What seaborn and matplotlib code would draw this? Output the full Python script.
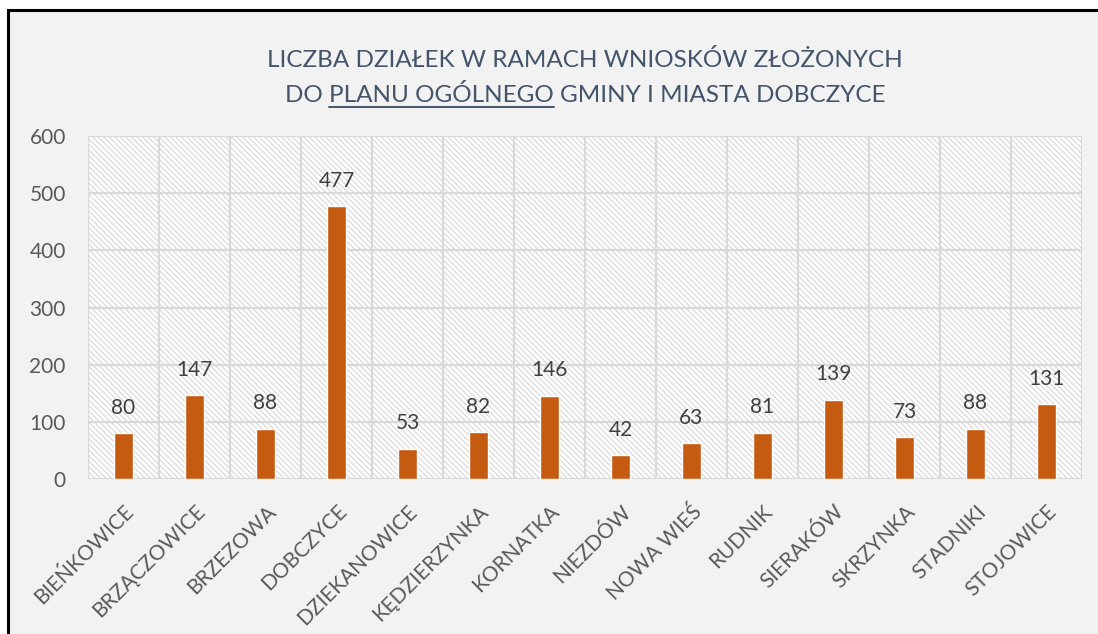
import pandas as pd
import matplotlib.pyplot as plt
import seaborn as sns
from matplotlib.patches import Rectangle
from matplotlib.lines import Line2D

# data
villages = ['BIEŃKOWICE', 'BRZĄCZOWICE', 'BRZEZOWA', 'DOBCZYCE', 'DZIEKANOWICE',
            'KĘDZIERZYNKA', 'KORNATKA', 'NIEZDÓW', 'NOWA WIEŚ', 'RUDNIK',
            'SIERAKÓW', 'SKRZYNKA', 'STADNIKI', 'STOJOWICE']
plots = [80, 147, 88, 477, 53, 82, 146, 42, 63, 81, 139, 73, 88, 131]
y_ticks = [0, 100, 200, 300, 400, 500, 600]
title_line1 = 'LICZBA DZIAŁEK W RAMACH WNIOSKÓW ZŁOŻONYCH'
title_pre, title_under, title_post = 'DO ', 'PLANU OGÓLNEGO', ' GMINY I MIASTA DOBCZYCE'

df = pd.DataFrame({'wies': villages, 'liczba': plots})

sns.set_style('white')
plt.rcParams['font.family'] = ['Lato', 'DejaVu Sans']
plt.rcParams['hatch.color'] = '#D6D6D6'
plt.rcParams['hatch.linewidth'] = 0.8

fig = plt.figure(figsize=(10.98, 6.34), dpi=100)
fig.patch.set_facecolor('white')

# chart frame (grey panel with black top/left border)
frame = Rectangle((8 / 1098, -0.05), 1.1, 1 - 10 / 634 + 0.05,
                  transform=fig.transFigure, facecolor='#F2F2F2',
                  edgecolor='black', linewidth=2.2, zorder=-5)
fig.patches.append(frame)

ax = fig.add_axes([88 / 1098, 1 - 479 / 634, (1082 - 88) / 1098, (479 - 136) / 634])
ax.set_zorder(2)
ax.set_facecolor('white')

# hatched plot area
ax.add_patch(Rectangle((0, 0), 1, 1, transform=ax.transAxes, facecolor='white',
                       edgecolor='#D6D6D6', hatch='\\\\\\\\\\\\', linewidth=0, zorder=0))

sns.barplot(data=df, x='wies', y='liczba', color='#C55A11', width=0.28,
            saturation=1, ax=ax, zorder=3)

ax.bar_label(ax.containers[0], padding=11, fontsize=15, color='#404040')

ax.set_ylim(0, 600)
ax.set_xlim(-0.5, len(villages) - 0.5)
ax.set_yticks(y_ticks)
ax.set_xticks([i - 0.5 for i in range(len(villages) + 1)], minor=True)
ax.grid(True, axis='y', which='major', color='#D9D9D9', linewidth=1.6, zorder=1)
ax.grid(True, axis='x', which='minor', color='#D9D9D9', linewidth=1.6, zorder=1)
ax.set_axisbelow(True)
for s in ax.spines.values():
    s.set_visible(False)

ax.set_xlabel('')
ax.set_ylabel('')
ax.tick_params(axis='both', which='both', length=0)
ax.tick_params(axis='y', labelsize=15, labelcolor='#595959', pad=16)
ax.tick_params(axis='x', labelsize=15, labelcolor='#595959', pad=16)
plt.setp(ax.get_xticklabels(), rotation=45, ha='right', rotation_mode='anchor')

# title, second line with underlined part (centred over the plot area)
title_color = '#44546A'
tx = 585 / 1098
fig.text(tx, 1 - 60 / 634, title_line1, ha='center', va='center', fontsize=17.5, color=title_color)
full2 = title_pre + title_under + title_post
t2 = fig.text(tx, 1 - 95 / 634, full2, ha='center', va='center', fontsize=17.5, color=title_color)

fig.canvas.draw()
r = fig.canvas.get_renderer()
bb = t2.get_window_extent(r)
tmp = fig.text(0, 0, title_pre + title_under, fontsize=17.5)
w_end = tmp.get_window_extent(r).width
tmp.set_text(title_pre + 'X')
w_pre_sp = tmp.get_window_extent(r).width
tmp.set_text('X')
w_pre_sp -= tmp.get_window_extent(r).width
tmp.remove()
x0 = (bb.x0 + w_pre_sp) / fig.bbox.width
x1 = (bb.x0 + w_end) / fig.bbox.width
uy = (bb.y0 - 1) / fig.bbox.height
fig.lines.append(Line2D([x0, x1], [uy, uy], transform=fig.transFigure,
                        color=title_color, linewidth=1.4))

fig.savefig('out.png', dpi=100)
